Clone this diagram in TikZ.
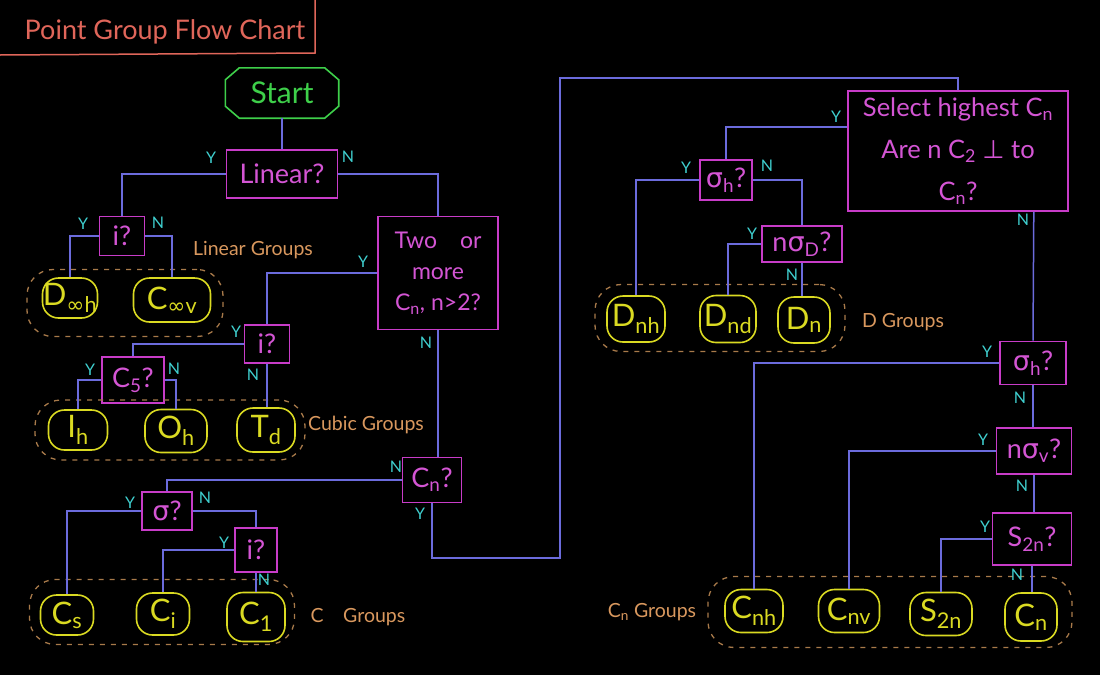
\documentclass[tikz,border=0pt]{standalone}
\usepackage{fontspec}
\setmainfont{Lato}
\newfontfamily\symf{DejaVu Sans}
\usetikzlibrary{calc}
\newcommand\sy[1]{{\symf #1}}
\newcommand\sbs[1]{\textsubscript{#1}}
\definecolor{linec}{HTML}{6B6BDC}
\definecolor{qbox}{HTML}{C83CC8}
\definecolor{qtext}{HTML}{D455D4}
\definecolor{resy}{HTML}{DADA22}
\definecolor{grpc}{HTML}{A87A4A}
\definecolor{glabc}{HTML}{D9985E}
\definecolor{ync}{HTML}{3FCFCF}
\definecolor{startc}{HTML}{3ECF4A}
\definecolor{titlec}{HTML}{E0665A}
\begin{document}
\begin{tikzpicture}[x=1pt,y=-1pt,
  q/.style={draw=qbox, line width=1.6pt, text=qtext, font=\fontsize{27}{30}\selectfont, inner sep=0pt, align=center},
  res/.style={draw=resy, line width=1.6pt, rounded corners=16pt, text=resy, font=\fontsize{31}{32}\selectfont, inner sep=0pt},
  grp/.style={draw=grpc, dash pattern=on 5pt off 6pt, line width=1.3pt, rounded corners=26pt, inner sep=0pt},
  conn/.style={draw=linec, line width=1.5pt},
  yn/.style={text=ync, font=\fontsize{16}{16}\selectfont, inner sep=0pt},
  glab/.style={text=glabc, font=\fontsize{19.5}{21}\selectfont, inner sep=0pt}]
\fill[black] (0,0) rectangle (1100,675);
\useasboundingbox (0,0) rectangle (1100,675);

% title
\node[text=titlec, font=\fontsize{27}{30}\selectfont, inner sep=0pt] (title) at (165,32) {Point Group Flow Chart};
\coordinate (t1) at (0,55);
\coordinate (t2) at (315,53);
\coordinate (t3) at (315,0);
\draw[titlec, line width=1.5pt] (t1) -- (t2) -- (t3);

% start
\node[text=startc, font=\fontsize{30}{32}\selectfont, minimum width=113, minimum height=50, inner sep=0pt] (start) at (282,93) {Start};
\draw[startc, line width=1.6pt] ($(start.north west)+(14,0)$) -- ($(start.north east)+(-14,0)$) -- ($(start.north east)+(0,12)$) -- ($(start.south east)+(0,-12)$) -- ($(start.south east)+(-14,0)$) -- ($(start.south west)+(14,0)$) -- ($(start.south west)+(0,-12)$) -- ($(start.north west)+(0,12)$) -- cycle;

% left questions
\node[q, minimum width=111, minimum height=48] (lin) at (282,174) {Linear?};
\node[q, minimum width=45, minimum height=39] (i1) at (122,236) {i?};
\node[q, minimum width=120, minimum height=113, font=\fontsize{23}{31}\selectfont] (two) at (438,273) {Two\quad or\\more\\C\sbs{n}, n>2?};
\node[q, minimum width=45, minimum height=38] (ic) at (267,344) {i?};
\node[q, minimum width=62, minimum height=46] (c5) at (133,380) {C\sbs{5}?};
\node[q, minimum width=59, minimum height=45] (cn) at (432,480) {C\sbs{n}?};
\node[q, minimum width=50, minimum height=38] (sig) at (167,511) {\sy{σ}?};
\node[q, minimum width=42, minimum height=44] (i3) at (256,550) {i?};

% left groups
\node[grp, minimum width=196, minimum height=67] (lgrp) at (125,303) {};
\node[grp, minimum width=270, minimum height=60] (cgrp) at (170,430) {};
\node[grp, minimum width=265, minimum height=65] (ccgrp) at (162,612) {};
\node[res, minimum width=55, minimum height=40] (dinfh) at (70,298) {D\sbs{\sy{∞}h}};
\node[res, minimum width=77, minimum height=44] (cinfv) at (172,300) {C\sbs{\sy{∞}v}};
\node[res, minimum width=59, minimum height=40] (ih) at (78,430) {I\sbs{h}};
\node[res, minimum width=62, minimum height=43] (oh) at (176,431) {O\sbs{h}};
\node[res, minimum width=58, minimum height=44] (td) at (266,430) {T\sbs{d}};
\node[res, minimum width=53, minimum height=40] (cs) at (67,615) {C\sbs{s}};
\node[res, minimum width=53, minimum height=42] (ci) at (163,614) {C\sbs{i}};
\node[res, minimum width=58, minimum height=49] (c1) at (256,617) {C\sbs{1}};
\node[glab] (lgl) at (253,250) {Linear Groups};
\node[glab] (cgl) at (366,425) {Cubic Groups};
\node[glab] (ccgl) at (358,617) {C\quad Groups};

% right questions
\node[q, minimum width=220, minimum height=120, font=\fontsize{25.5}{42}\selectfont] (sel) at (958,151) {Select highest C\sbs{n}\\Are n C\sbs{2} \sy{⊥} to\\C\sbs{n}?};
\node[q, minimum width=52, minimum height=40] (sh1) at (726,180) {\sy{σ}\sbs{h}?};
\node[q, minimum width=80, minimum height=36] (nsd) at (802,244) {n\sy{σ}\sbs{D}?};
\node[q, minimum width=66, minimum height=43] (sh2) at (1033,363) {\sy{σ}\sbs{h}?};
\node[q, minimum width=75, minimum height=46] (nsv) at (1034,451) {n\sy{σ}\sbs{v}?};
\node[q, minimum width=79, minimum height=52] (s2q) at (1032,539) {S\sbs{2n}?};

% right groups
\node[grp, minimum width=250, minimum height=67] (dgrp) at (720,318) {};
\node[grp, minimum width=364, minimum height=71] (cngrp) at (890,612) {};
\node[res, minimum width=58, minimum height=46] (dnh) at (636,319) {D\sbs{nh}};
\node[res, minimum width=56, minimum height=47] (dnd) at (728,319) {D\sbs{nd}};
\node[res, minimum width=52, minimum height=46] (dn) at (804,320) {D\sbs{n}};
\node[res, minimum width=58, minimum height=43] (cnh) at (754,611) {C\sbs{nh}};
\node[res, minimum width=61, minimum height=43] (cnv) at (849,611) {C\sbs{nv}};
\node[res, minimum width=62, minimum height=43] (s2n) at (941,614) {S\sbs{2n}};
\node[res, minimum width=52, minimum height=48] (cnn) at (1031,617) {C\sbs{n}};
\node[glab] (dgl) at (903,322) {D Groups};
\node[glab] (cngl) at (652,612) {C\sbs{n} Groups};

% connectors
\draw[conn] (start.south) -- (start.south |- lin.north);
\draw[conn] (lin.west) -| (i1.north);
\draw[conn] (lin.east) -| (two.north);
\draw[conn] (i1.west) -| (dinfh.north);
\draw[conn] (i1.east) -| (cinfv.north);
\draw[conn] (two.west) -| (ic.north);
\draw[conn] (two.south) -- (two.south |- cn.north);
\draw[conn] (ic.west) -| (c5.north);
\draw[conn] (ic.south) -- (ic.south |- td.north);
\draw[conn] (c5.west) -| (ih.north);
\draw[conn] (c5.east) -| (oh.north);
\draw[conn] (cn.west) -| (sig.north);
\draw[conn] (sig.west) -| (cs.north);
\draw[conn] (sig.east) -| (i3.north);
\draw[conn] (i3.west) -| (ci.north);
\draw[conn] (i3.south) -- (i3.south |- c1.north);
\coordinate (b1) at (560,558);
\coordinate (b2) at (560,78);
\draw[conn] (cn.south) |- (b1) -- (b2) -| (sel.north);
\draw[conn] ($(sel.north west)+(0,37)$) -| (sh1.north);
\draw[conn] ($(sel.south east)+(-35,0)$) -- (sh2.north);
\draw[conn] (sh1.west) -| (dnh.north);
\draw[conn] (sh1.east) -| (nsd.north);
\draw[conn] (nsd.west) -| (dnd.north);
\draw[conn] (nsd.south) -- (nsd.south |- dn.north);
\draw[conn] (sh2.west) -| (cnh.north);
\draw[conn] (sh2.south) -- (sh2.south |- nsv.north);
\draw[conn] (nsv.west) -| (cnv.north);
\draw[conn] (nsv.south) -- (nsv.south |- s2q.north);
\draw[conn] (s2q.west) -| (s2n.north);
\draw[conn] (s2q.south) -- (s2q.south |- cnn.north);

% Y/N labels
\node[yn] (ly) at (211,158) {Y};
\node[yn] (ln) at (348,157) {N};
\node[yn] (i1y) at (83,224) {Y};
\node[yn] (i1n) at (158,223) {N};
\node[yn] (twoy) at (363,262) {Y};
\node[yn] (twon) at (426,343) {N};
\node[yn] (icy) at (236,332) {Y};
\node[yn] (icn) at (253,375) {N};
\node[yn] (c5y) at (90,370) {Y};
\node[yn] (c5n) at (174,369) {N};
\node[yn] (cnn1) at (396,467) {N};
\node[yn] (cny) at (420,514) {Y};
\node[yn] (sigy) at (130,503) {Y};
\node[yn] (sign) at (205,498) {N};
\node[yn] (i3y) at (224,543) {Y};
\node[yn] (i3n) at (264,580) {N};
\node[yn] (sely) at (836,117) {Y};
\node[yn] (seln) at (1023,220) {N};
\node[yn] (sh1y) at (686,168) {Y};
\node[yn] (sh1n) at (767,166) {N};
\node[yn] (nsdy) at (752,234) {Y};
\node[yn] (nsdn) at (792,275) {N};
\node[yn] (sh2y) at (987,352) {Y};
\node[yn] (sh2n) at (1020,398) {N};
\node[yn] (nsvy) at (983,440) {Y};
\node[yn] (nsvn) at (1022,486) {N};
\node[yn] (s2qy) at (985,527) {Y};
\node[yn] (s2qn) at (1017,575) {N};
\end{tikzpicture}
\end{document}
